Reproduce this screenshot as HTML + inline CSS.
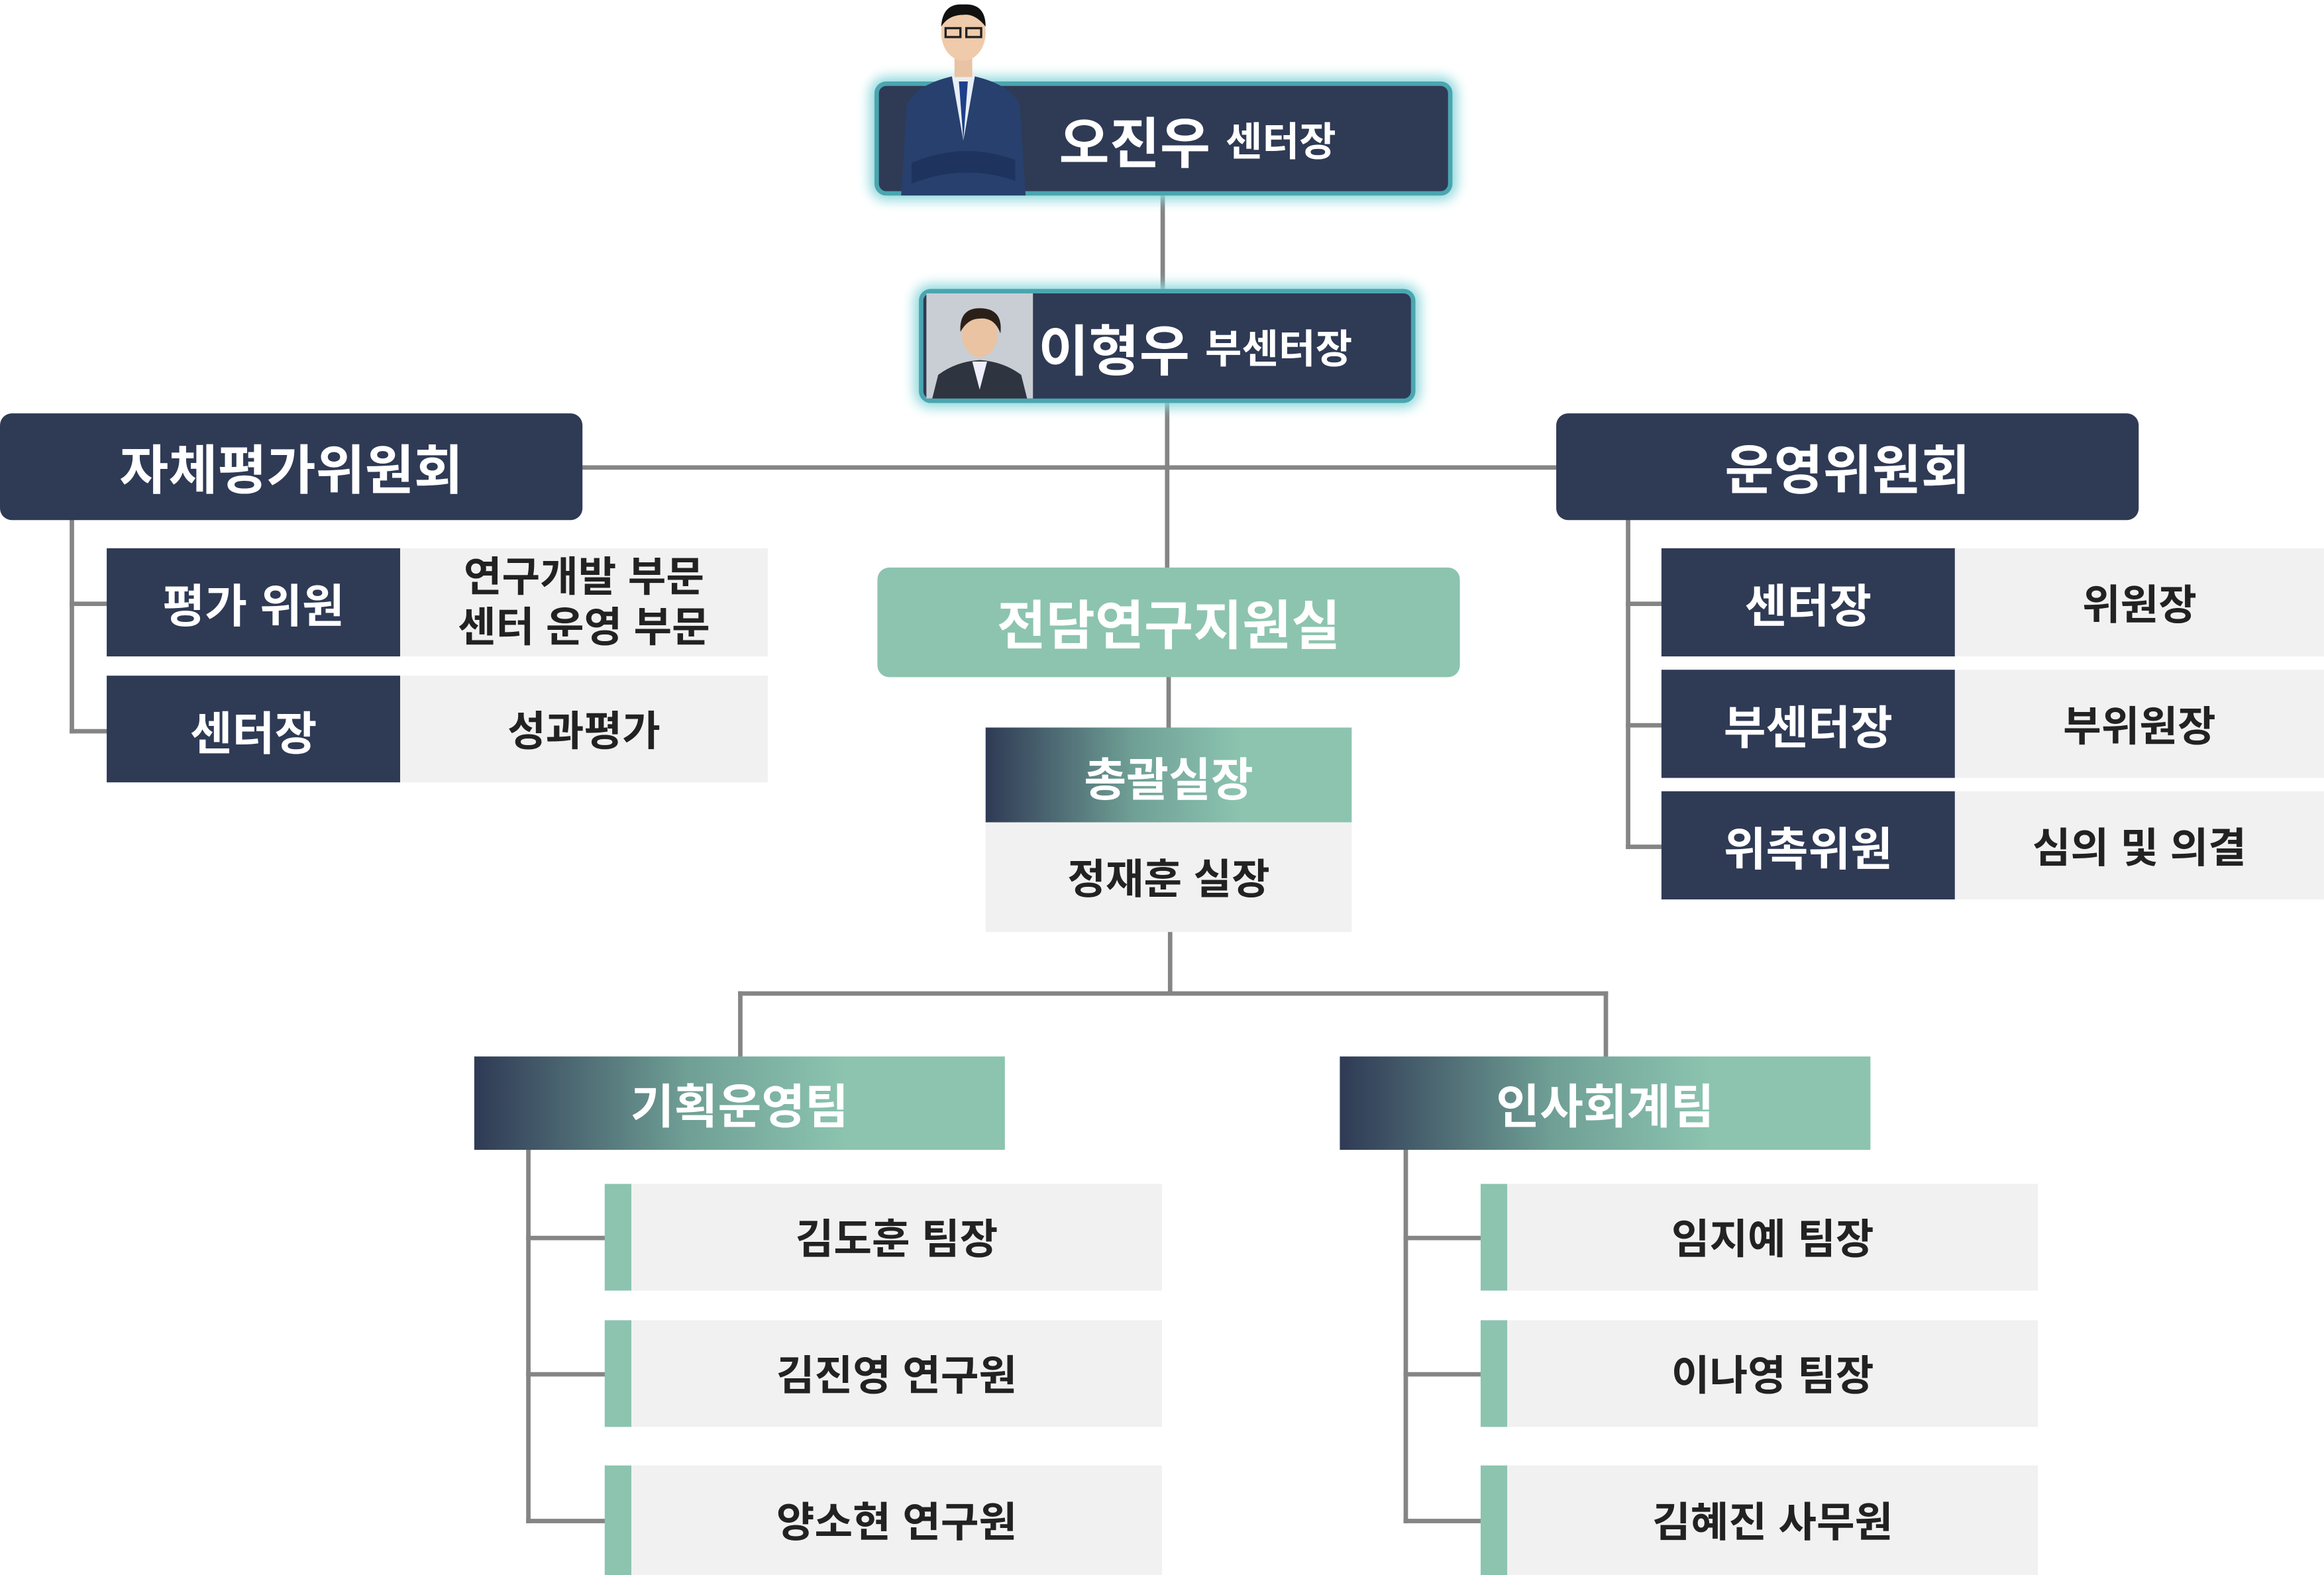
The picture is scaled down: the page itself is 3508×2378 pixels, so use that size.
<!DOCTYPE html>
<html><head><meta charset="utf-8"><style>
html,body{margin:0;padding:0;background:#fff;}
body{width:3508px;height:2378px;overflow:hidden;}
#c{position:absolute;left:0;top:0;width:1568px;height:1063px;transform:scale(2.2372);transform-origin:0 0;font-family:"Liberation Sans","Noto Sans CJK KR",sans-serif;font-weight:bold;}
.a{position:absolute;box-sizing:border-box;display:flex;align-items:center;justify-content:center;text-align:center;}
.n{background:#2f3a55;color:#fff;}
.l{background:#f1f1f1;color:#222;}
.m{background:#8cc4b0;}
.g{background:linear-gradient(90deg,#2f3a55 0%,#6f9f95 40%,#8cc4b0 70%,#8cc4b0 100%);color:#fff;}
.ln{position:absolute;background:#858585;}
</style></head><body><div id="c">
<div class="ln" style="left:783px;top:130px;width:3px;height:68px"></div>
<div class="ln" style="left:786px;top:270px;width:3px;height:115px"></div>
<div class="ln" style="left:390px;top:314px;width:662px;height:3px"></div>
<div class="ln" style="left:787px;top:455px;width:3px;height:38px"></div>
<div class="ln" style="left:788px;top:627px;width:3px;height:44px"></div>
<div class="ln" style="left:498px;top:669px;width:587px;height:3px"></div>
<div class="ln" style="left:498px;top:669px;width:3px;height:46px"></div>
<div class="ln" style="left:1082px;top:669px;width:3px;height:46px"></div>
<div class="ln" style="left:47px;top:350px;width:3px;height:145px"></div>
<div class="ln" style="left:47px;top:406px;width:26px;height:3px"></div>
<div class="ln" style="left:47px;top:492px;width:26px;height:3px"></div>
<div class="ln" style="left:1097px;top:350px;width:3px;height:223px"></div>
<div class="ln" style="left:1097px;top:406px;width:26px;height:3px"></div>
<div class="ln" style="left:1097px;top:488px;width:26px;height:3px"></div>
<div class="ln" style="left:1097px;top:570px;width:26px;height:3px"></div>
<div class="ln" style="left:355px;top:775px;width:3px;height:253px"></div>
<div class="ln" style="left:355px;top:834px;width:54px;height:3px"></div>
<div class="ln" style="left:355px;top:926px;width:54px;height:3px"></div>
<div class="ln" style="left:355px;top:1025px;width:54px;height:3px"></div>
<div class="ln" style="left:947px;top:775px;width:3px;height:253px"></div>
<div class="ln" style="left:947px;top:834px;width:54px;height:3px"></div>
<div class="ln" style="left:947px;top:926px;width:54px;height:3px"></div>
<div class="ln" style="left:947px;top:1025px;width:54px;height:3px"></div>

<div class="a n" style="left:590px;top:55px;width:390px;height:77px;border-radius:8px;border:3px solid #4aa6b0;box-shadow:0 0 8px 3px #8fd8dc;padding-left:46px;font-size:37px;">오진우&nbsp;<span style="font-size:27px">센터장</span></div>
<svg style="position:absolute;left:600px;top:0" width="100" height="132" viewBox="0 0 100 132">
<path d="M8 132 L12 70 Q20 55 50 50 Q80 55 88 70 L92 132 Z" fill="#27406e"/>
<path d="M42 50 L50 95 L58 50 Z" fill="#e8eef5"/><path d="M47 55 L50 95 L53 55 Z" fill="#1f3f8a"/>
<rect x="44" y="38" width="12" height="14" fill="#e8c3a4"/>
<ellipse cx="50" cy="22" rx="15" ry="19" fill="#efcbab"/>
<path d="M35 18 Q36 2 50 3 Q65 2 65 18 Q58 9 50 10 Q40 10 35 18Z" fill="#111"/>
<rect x="38" y="19" width="10" height="6" fill="none" stroke="#222" stroke-width="1.5"/><rect x="52" y="19" width="10" height="6" fill="none" stroke="#222" stroke-width="1.5"/>
<path d="M15 110 Q50 95 85 108 L85 122 Q50 110 15 124Z" fill="#1e335e"/>
</svg>
<div class="a n" style="left:620px;top:195px;width:335px;height:77px;border-radius:8px;border:3px solid #4aa6b0;box-shadow:0 0 8px 3px #8fd8dc;padding-left:38px;font-size:37px;">이형우&nbsp;<span style="font-size:27px">부센터장</span></div>
<svg style="position:absolute;left:625px;top:198px" width="72" height="71" viewBox="0 0 72 71">
<rect width="72" height="71" fill="#c9ced4"/>
<path d="M4 71 L8 55 Q20 46 36 45 Q52 46 64 55 L68 71Z" fill="#2e3440"/>
<path d="M31 46 L36 65 L41 46Z" fill="#eef"/>
<ellipse cx="36" cy="28" rx="12" ry="15" fill="#e9c3a2"/>
<path d="M23 26 Q22 10 36 10 Q52 10 50 27 Q46 16 36 17 Q28 17 23 26Z" fill="#2b2018"/>
</svg>

<div class="a n" style="left:0;top:279px;width:393px;height:72px;border-radius:8px;font-size:36px;">자체평가위원회</div>
<div class="a n" style="left:1050px;top:279px;width:393px;height:72px;border-radius:8px;font-size:36px;">운영위원회</div>

<div class="a n" style="left:72px;top:370px;width:198px;height:73px;font-size:31px;">평가 위원</div>
<div class="a l" style="left:270px;top:370px;width:248px;height:73px;font-size:28px;line-height:34px;">연구개발 부문<br>센터 운영 부문</div>
<div class="a n" style="left:72px;top:456px;width:198px;height:72px;font-size:31px;">센터장</div>
<div class="a l" style="left:270px;top:456px;width:248px;height:72px;font-size:28px;">성과평가</div>

<div class="a n" style="left:1121px;top:370px;width:198px;height:73px;font-size:31px;">센터장</div>
<div class="a l" style="left:1319px;top:370px;width:249px;height:73px;font-size:28px;">위원장</div>
<div class="a n" style="left:1121px;top:452px;width:198px;height:73px;font-size:31px;">부센터장</div>
<div class="a l" style="left:1319px;top:452px;width:249px;height:73px;font-size:28px;">부위원장</div>
<div class="a n" style="left:1121px;top:534px;width:198px;height:73px;font-size:31px;">위촉위원</div>
<div class="a l" style="left:1319px;top:534px;width:249px;height:73px;font-size:28px;">심의 및 의결</div>

<div class="a m" style="left:592px;top:383px;width:393px;height:74px;border-radius:8px;color:#fff;font-size:36px;">전담연구지원실</div>
<div class="a g" style="left:665px;top:491px;width:247px;height:64px;font-size:31px;">총괄실장</div>
<div class="a l" style="left:665px;top:555px;width:247px;height:74px;font-size:28px;">정재훈 실장</div>

<div class="a g" style="left:320px;top:713px;width:358px;height:63px;font-size:32px;">기획운영팀</div>
<div class="a g" style="left:904px;top:713px;width:358px;height:63px;font-size:32px;">인사회계팀</div>

<div class="a m" style="left:408px;top:799px;width:18px;height:72px"></div>
<div class="a l" style="left:426px;top:799px;width:358px;height:72px;font-size:28px;">김도훈 팀장</div>
<div class="a m" style="left:408px;top:891px;width:18px;height:72px"></div>
<div class="a l" style="left:426px;top:891px;width:358px;height:72px;font-size:28px;">김진영 연구원</div>
<div class="a m" style="left:408px;top:989px;width:18px;height:74px"></div>
<div class="a l" style="left:426px;top:989px;width:358px;height:74px;font-size:28px;">양소현 연구원</div>

<div class="a m" style="left:999px;top:799px;width:18px;height:72px"></div>
<div class="a l" style="left:1017px;top:799px;width:358px;height:72px;font-size:28px;">임지예 팀장</div>
<div class="a m" style="left:999px;top:891px;width:18px;height:72px"></div>
<div class="a l" style="left:1017px;top:891px;width:358px;height:72px;font-size:28px;">이나영 팀장</div>
<div class="a m" style="left:999px;top:989px;width:18px;height:74px"></div>
<div class="a l" style="left:1017px;top:989px;width:358px;height:74px;font-size:28px;">김혜진 사무원</div>
</div></body></html>
